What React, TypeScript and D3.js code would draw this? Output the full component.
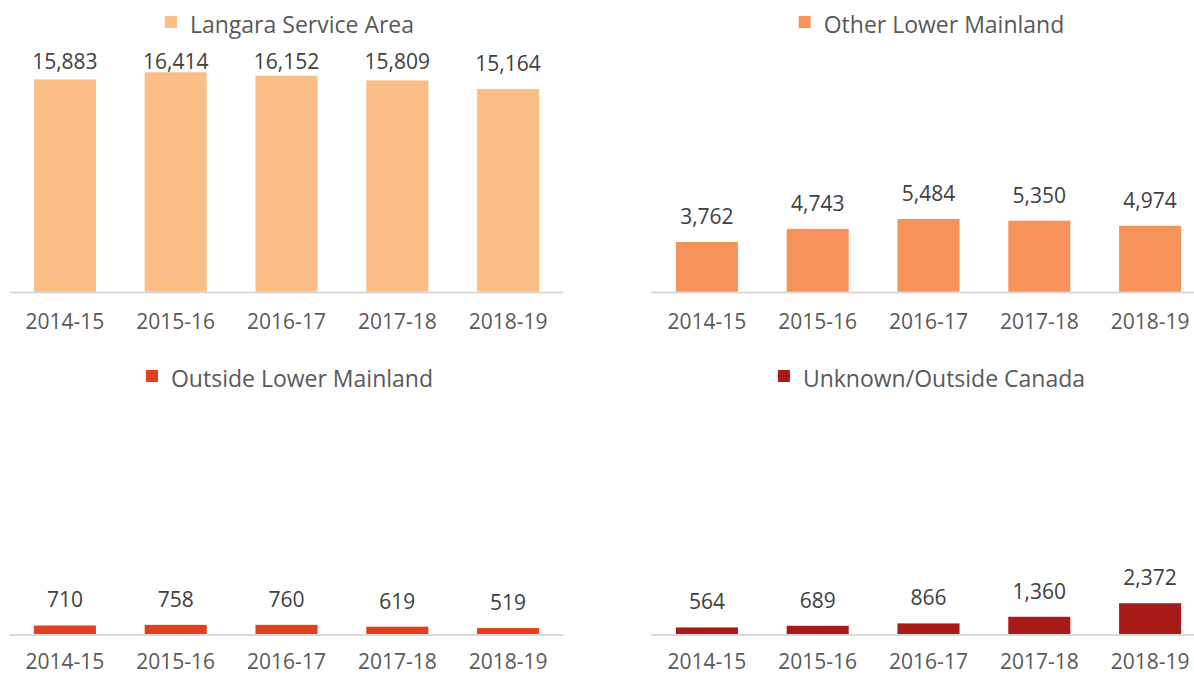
import React from "react";
import * as d3 from "d3";

const years = ["2014-15", "2015-16", "2016-17", "2017-18", "2018-19"];
const langara = [15883, 16414, 16152, 15809, 15164];
const otherLower = [3762, 4743, 5484, 5350, 4974];
const outsideLower = [710, 758, 760, 619, 519];
const unknownOutside = [564, 689, 866, 1360, 2372];

const seriesNames = [
  "Langara Service Area",
  "Other Lower Mainland",
  "Outside Lower Mainland",
  "Unknown/Outside Canada",
];
const seriesColors = ["#FBBE86", "#F5935A", "#E1401F", "#A81A17"];
const yMax = 18000;

const W = 1194;
const H = 676;
const FONT = "'Open Sans', sans-serif";

function measure(text: string, size: number): number {
  try {
    const c = document.createElement("canvas").getContext("2d");
    if (c) {
      c.font = `${size}px 'Open Sans'`;
      return c.measureText(text).width;
    }
  } catch (e) {}
  return text.length * size * 0.51;
}

type PanelProps = {
  name: string;
  color: string;
  values: number[];
  x0: number;
  x1: number;
  axisY: number;
  plotTop: number;
  legendY: number;
  labelOffset: number;
};

function Panel({ name, color, values, x0, x1, axisY, plotTop, legendY, labelOffset }: PanelProps) {
  const x = d3.scaleBand<string>().domain(years).range([x0, x1]).paddingInner(0.44).paddingOuter(0.22);
  const y = d3.scaleLinear().domain([0, yMax]).range([axisY, plotTop]);
  const fmt = d3.format(",");
  const legendFont = 23;
  const textW = measure(name, legendFont);
  const sq = 12;
  const gap = 13;
  const totalW = sq + gap + textW;
  const cx = (x0 + x1) / 2 + 3;
  const lx = cx - totalW / 2;
  const minBaseline = plotTop + 18;
  return (
    <g>
      <rect x={lx} y={legendY} width={sq} height={sq} fill={color} />
      <text
        x={lx + sq + gap}
        y={legendY + 17}
        fontFamily={FONT}
        fontSize={legendFont}
        fill="#595959"
      >
        {name}
      </text>
      {values.map((v, i) => (
        <rect
          key={"b" + i}
          x={x(years[i])!}
          y={y(v)}
          width={x.bandwidth()}
          height={axisY - y(v)}
          fill={color}
        />
      ))}
      <line x1={x0} x2={x1} y1={axisY} y2={axisY} stroke="#D9D9D9" strokeWidth={1.8} />
      {values.map((v, i) => (
        <text
          key={"l" + i}
          x={x(years[i])! + x.bandwidth() / 2}
          y={Math.max(y(v) - 18, minBaseline)}
          textAnchor="middle"
          fontFamily={FONT}
          fontSize={21}
          fill="#404040"
        >
          {fmt(v)}
        </text>
      ))}
      {years.map((yr) => (
        <text
          key={"x" + yr}
          x={x(yr)! + x.bandwidth() / 2}
          y={axisY + labelOffset}
          textAnchor="middle"
          fontFamily={FONT}
          fontSize={21}
          fill="#595959"
        >
          {yr}
        </text>
      ))}
    </g>
  );
}

export default function App() {
  const allValues = [langara, otherLower, outsideLower, unknownOutside];
  const layout = [
    { x0: 9.5, x1: 563.5, axisY: 292.5, plotTop: 51, legendY: 16, labelOffset: 36.5 },
    { x0: 651.5, x1: 1205.5, axisY: 292.5, plotTop: 51, legendY: 16, labelOffset: 36.5 },
    { x0: 9.5, x1: 563.5, axisY: 635, plotTop: 393.8, legendY: 370, labelOffset: 34 },
    { x0: 651.5, x1: 1205.5, axisY: 635, plotTop: 393.8, legendY: 370, labelOffset: 34 },
  ];
  return (
    <svg
      width={W}
      height={H}
      style={{ position: "fixed", left: 0, top: 0, background: "#fff" }}
    >
      <rect width={W} height={H} fill="#fff" />
      {seriesNames.map((n, i) => (
        <Panel key={n} name={n} color={seriesColors[i]} values={allValues[i]} {...layout[i]} />
      ))}
    </svg>
  );
}
